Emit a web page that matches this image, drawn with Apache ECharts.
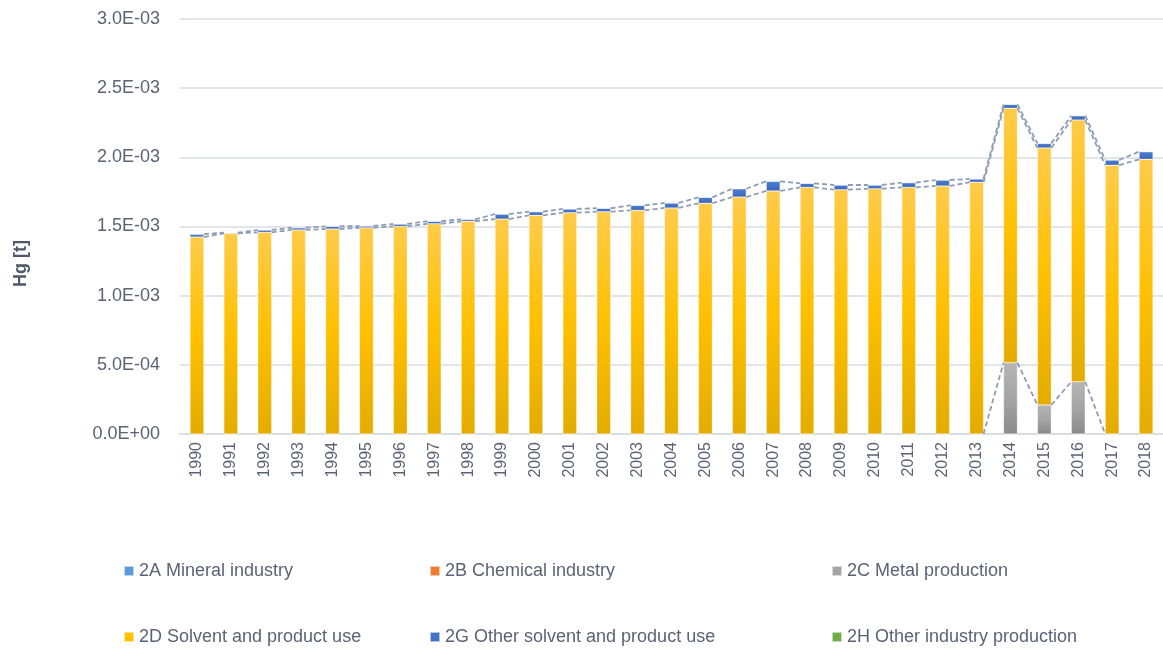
<!DOCTYPE html>
<html>
<head>
<meta charset="utf-8">
<script src="https://cdn.jsdelivr.net/npm/echarts@6/dist/echarts.min.js"></script>
<style>
html,body{margin:0;padding:0;background:#fff;}
#chart{width:1163px;height:651px;}
</style>
</head>
<body>
<div id="chart"></div>
<script>
const years = ['1990','1991','1992','1993','1994','1995','1996','1997','1998','1999','2000','2001','2002','2003','2004','2005','2006','2007','2008','2009','2010','2011','2012','2013','2014','2015','2016','2017','2018'];
const s2A = [0,0,0,0,0,0,0,0,0,0,0,0,0,0,0,0,0,0,0,0,0,0,0,0,0,0,0,0,0];
const s2B = [0,0,0,0,0,0,0,0,0,0,0,0,0,0,0,0,0,0,0,0,0,0,0,0,0,0,0,0,0];
const s2C = [0,0,0,0,0,0,0,0,0,0,0,0,0,0,0,0,0,0,0,0,0,0,0,0,5.15e-4,2.10e-4,3.78e-4,0,0];
const s2D = [1.424e-3,1.450e-3,1.458e-3,1.475e-3,1.482e-3,1.491e-3,1.501e-3,1.520e-3,1.538e-3,1.554e-3,1.581e-3,1.600e-3,1.607e-3,1.617e-3,1.634e-3,1.668e-3,1.713e-3,1.757e-3,1.783e-3,1.766e-3,1.773e-3,1.783e-3,1.793e-3,1.820e-3,1.840e-3,1.858e-3,1.892e-3,1.943e-3,1.986e-3];
const s2G = [2.1e-5,5e-6,1.7e-5,1.6e-5,1.9e-5,1.3e-5,1.7e-5,1.8e-5,1.4e-5,3.6e-5,2.6e-5,2.7e-5,2.5e-5,3.6e-5,3.6e-5,4.3e-5,6.0e-5,7.0e-5,2.9e-5,3.4e-5,2.7e-5,3.4e-5,4.3e-5,2.4e-5,2.8e-5,3.3e-5,3.1e-5,3.8e-5,5.5e-5];
const s2H = [0,0,0,0,0,0,0,0,0,0,0,0,0,0,0,0,0,0,0,0,0,0,0,0,0,0,0,0,0];
const yTicks = {min:0, max:0.003, interval:0.0005};

const names = ['2A Mineral industry','2B Chemical industry','2C Metal production','2D Solvent and product use','2G Other solvent and product use','2H Other industry production'];
const solid = ['#5B9BD5','#ED7D31','#A5A5A5','#FFC000','#4472C4','#70AD47'];
const grads = [
  ['#6aa6dc','#4a8ac6'],
  ['#f08a45','#d86c22'],
  ['#b5b5b5','#8a8a8a'],
  ['#FFCB4A','#E3AC00'],
  ['#4d7fd3','#3862b4'],
  ['#7cba52','#5e9a38']
];
const allSeries = [s2A,s2B,s2C,s2D,s2G,s2H];
const BAR_RATIO = 0.41;
const txt = '#5b6475';

function fmt(v){
  if (v === 0) return '0.0E+00';
  const e = Math.floor(Math.log10(Math.abs(v)) + 1e-9);
  const m = v / Math.pow(10, e);
  const sign = e < 0 ? '-' : '+';
  const ae = Math.abs(e);
  return m.toFixed(1) + 'E' + sign + (ae < 10 ? '0' + ae : '' + ae);
}

// cumulative tops
const cum = [];
let run = years.map(()=>0);
allSeries.forEach(s => { run = run.map((r,i)=>r + s[i]); cum.push(run.slice()); });

const series = [];
allSeries.forEach((s, k) => {
  series.push({
    name: names[k], type: 'bar', stack: 'total', data: s,
    barWidth: (BAR_RATIO*100)+'%',
    itemStyle: {
      color: {type:'linear', x:0, y:0, x2:0, y2:1, colorStops:[
        {offset:0, color:grads[k][0]},
        {offset:0.5, color:solid[k]},
        {offset:1, color:grads[k][1]}
      ]},
      borderColor: 'rgba(255,255,255,0.6)', borderWidth: 0.5
    },
    emphasis: {disabled: true}
  });
});

// Series lines (Excel-style) connecting segment tops between adjacent bars
[2,3,4].forEach(k => {
  const c = cum[k];
  const d = [];
  for (let i = 0; i < years.length - 1; i++) {
    if (c[i] === 0 && c[i+1] === 0) continue;
    d.push([i, c[i], c[i+1]]);
  }
  series.push({
    type: 'custom', silent: true, z: 5,
    data: d,
    encode: {x: 0, y: [1, 2]},
    renderItem: function(params, api){
      const i = api.value(0);
      const p1 = api.coord([i, api.value(1)]);
      const p2 = api.coord([i+1, api.value(2)]);
      const hw = api.size([1,0])[0] * BAR_RATIO / 2;
      return {type:'line', shape:{x1:p1[0]+hw, y1:p1[1], x2:p2[0]-hw, y2:p2[1]},
        style:{stroke:'#8e9db3', lineWidth:1.8, lineDash:[5,3], fill:null}};
    }
  });
});

const legPos = [
  {left:118, top:557},{left:424, top:557},{left:826, top:557},
  {left:118, top:623},{left:424, top:623},{left:826, top:623}
];
const legends = names.map((n,k)=>({
  left: legPos[k].left, top: legPos[k].top,
  itemWidth: 10, itemHeight: 10, itemGap: 0,
  icon: 'rect',
  textStyle: {color: txt, fontSize: 18, fontFamily: 'Liberation Sans'},
  data: [{name: n, itemStyle: {color: solid[k]}}],
  selectedMode: false
}));

const chart = echarts.init(document.getElementById('chart'), null, {renderer:'canvas'});
chart.setOption({
  animation: false,
  backgroundColor: '#fff',
  grid: {left:180, top:19, width:991, height:415},
  legend: legends,
  graphic: [{
    type:'text', rotation: Math.PI/2,
    style:{text:'Hg [t]', fill:'#4f5869', font:'bold 18px "Liberation Sans"'},
    x: 12, y: 287
  }],
  xAxis: {
    type:'category', data: years,
    axisLine:{lineStyle:{color:'#d9dde4', width:2}},
    axisTick:{show:false},
    axisLabel:{rotate:90, margin:8, color: txt, fontSize:16, fontFamily:'Liberation Sans', interval:0}
  },
  yAxis: {
    type:'value', min: yTicks.min, max: yTicks.max, interval: yTicks.interval,
    axisLine:{show:false}, axisTick:{show:false},
    splitLine:{lineStyle:{color:'#d9dde4', width:1.5}},
    axisLabel:{formatter: fmt, color: txt, fontSize:18, margin:20, fontFamily:'Liberation Sans'}
  },
  series: series
});
</script>
</body>
</html>
